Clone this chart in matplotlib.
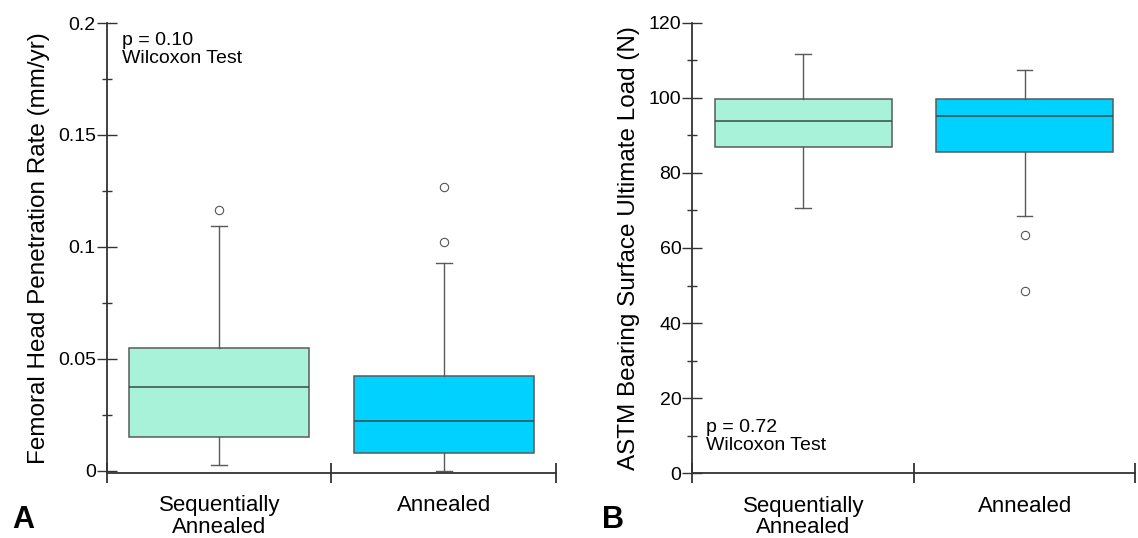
import matplotlib.pyplot as plt
from matplotlib.ticker import MultipleLocator, FixedLocator, NullFormatter

plt.rcParams["font.family"] = ["Liberation Sans", "DejaVu Sans"]

# ------------------ Data ------------------
groups = ["Sequentially\nAnnealed", "Annealed"]
colors = ["#a8f2d9", "#00d2ff"]

# Panel A: femoral head penetration rate (mm/yr)
pen_q1 = [0.0149, 0.0079]
pen_med = [0.0372, 0.0222]
pen_q3 = [0.0550, 0.0424]
pen_lo = [0.0027, 0.0000]
pen_hi = [0.1094, 0.0929]
pen_out = [[0.1164], [0.1266, 0.1024]]

# Panel B: ASTM bearing surface ultimate load (N)
load_q1 = [86.8, 85.6]
load_med = [93.9, 95.1]
load_q3 = [99.7, 99.7]
load_lo = [70.7, 68.5]
load_hi = [111.6, 107.5]
load_out = [[], [63.4, 48.5]]


def make_stats(q1, med, q3, lo, hi, out):
    return [dict(q1=a, med=m, q3=b, whislo=l, whishi=h, fliers=f)
            for a, m, b, l, h, f in zip(q1, med, q3, lo, hi, out)]


def draw_panel(ax, stats, ylim, major, minor, ylabel, note, note_xy):
    bp = ax.bxp(stats, positions=[1, 2], widths=0.8, capwidths=0.07,
                patch_artist=True, showfliers=True,
                boxprops=dict(edgecolor="#5a5a5a", linewidth=1.1),
                medianprops=dict(color="#3a4a4a", linewidth=1.1),
                whiskerprops=dict(color="#5a5a5a", linewidth=1.0),
                capprops=dict(color="#5a5a5a", linewidth=1.0),
                flierprops=dict(marker="o", markersize=6, markerfacecolor="white",
                                markeredgecolor="#555555", markeredgewidth=0.8))
    for patch, c in zip(bp["boxes"], colors):
        patch.set_facecolor(c)

    ax.set_xlim(0.5, 2.5)
    ax.set_ylim(*ylim)
    ax.spines["top"].set_visible(False)
    ax.spines["right"].set_visible(False)
    for s in ("left", "bottom"):
        ax.spines[s].set_color("#333333")
        ax.spines[s].set_linewidth(1.3)

    # category labels sit between the tick marks
    ax.xaxis.set_major_locator(FixedLocator([0.5, 1.5, 2.5]))
    ax.xaxis.set_major_formatter(NullFormatter())
    ax.xaxis.set_minor_locator(FixedLocator([1, 2]))
    ax.set_xticklabels(groups, minor=True, linespacing=1.05)
    ax.tick_params(axis="x", which="major", direction="inout", length=15,
                   width=1.3, color="#333333")
    ax.tick_params(axis="x", which="minor", length=0, pad=16, labelsize=16)

    ax.yaxis.set_major_locator(MultipleLocator(major))
    ax.yaxis.set_minor_locator(MultipleLocator(minor))
    ax.tick_params(axis="y", which="major", direction="inout", length=15,
                   width=1.0, color="#333333", labelsize=14, pad=0.5)
    ax.tick_params(axis="y", which="minor", direction="inout", length=7,
                   width=1.0, color="#333333")
    ax.set_ylabel(ylabel, fontsize=17.5, labelpad=6)

    ax.text(note_xy[0], note_xy[1], note, transform=ax.transAxes,
            fontsize=14, va="top", ha="left", linespacing=1.05)


fig = plt.figure(figsize=(11.38, 5.38), dpi=100)
ax_a = fig.add_axes([0.094, 0.1208, 0.3946, 0.8364])
ax_b = fig.add_axes([0.6085, 0.1203, 0.3893, 0.8375])

draw_panel(ax_a, make_stats(pen_q1, pen_med, pen_q3, pen_lo, pen_hi, pen_out),
           (-0.001, 0.2), 0.05, 0.025,
           "Femoral Head Penetration Rate (mm/yr)",
           "p = 0.10\nWilcoxon Test", (0.033, 0.98))
ax_a.set_yticks([0, 0.05, 0.1, 0.15, 0.2])
ax_a.set_yticklabels(["0", "0.05", "0.1", "0.15", "0.2"])

draw_panel(ax_b, make_stats(load_q1, load_med, load_q3, load_lo, load_hi, load_out),
           (0, 120), 20, 10,
           "ASTM Bearing Surface Ultimate Load (N)",
           "p = 0.72\nWilcoxon Test", (0.03, 0.12))

# panel letters
fig.text(12 / 1138, 1 - 520 / 538, "A", fontsize=22, fontweight="bold",
         va="center", ha="left")
fig.text(602 / 1138, 1 - 520 / 538, "B", fontsize=22, fontweight="bold",
         va="center", ha="left")

fig.savefig("out.png", dpi=100)
plt.close(fig)
